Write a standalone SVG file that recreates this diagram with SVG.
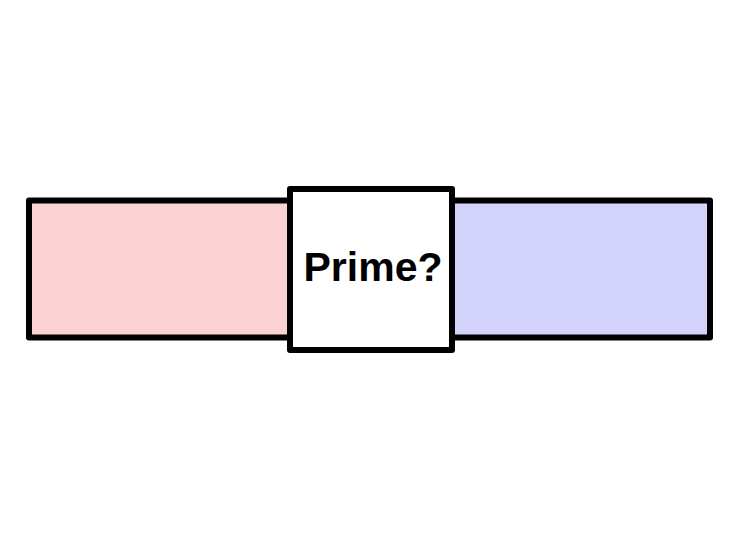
<svg xmlns="http://www.w3.org/2000/svg" width="743" height="540" viewBox="0 0 743 540">
<style>
.box{stroke:#000;stroke-width:6;stroke-linejoin:round}
.lbl{font-family:"Liberation Sans",Arial,sans-serif;font-weight:bold;font-size:41px;text-anchor:middle}
</style>
<rect width="743" height="540" fill="#fff"/>
<g id="left"><rect class="box" x="29" y="200.5" width="262" height="137" fill="#fcd3d3"/></g>
<g id="right"><rect class="box" x="451" y="200.5" width="259" height="137" fill="#d3d3fc"/></g>
<g id="prime"><rect class="box" x="290" y="189" width="162" height="161" fill="#fff"/>
<text class="lbl" x="373" y="281">Prime?</text></g>
<g id="connectors"></g>
</svg>
